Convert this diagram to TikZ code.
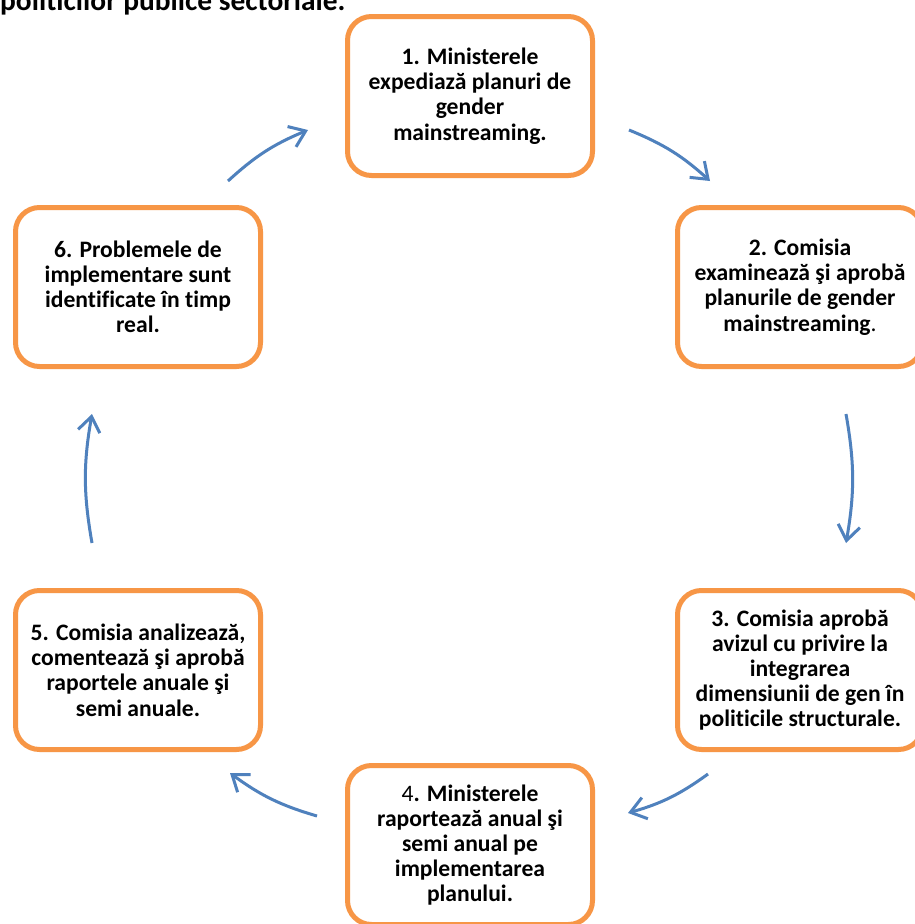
\documentclass[tikz,border=0pt]{standalone}
\usepackage{fontspec}
\setmainfont{Carlito}[Ligatures=NoCommon]
\usetikzlibrary{arrows.meta}
\definecolor{boxorange}{HTML}{F79646}
\definecolor{arrowblue}{HTML}{4F81BD}
\colorlet{box edge}{boxorange}
\colorlet{cycle line}{arrowblue}
\newcommand{\boxfont}{\fontsize{23.6}{25.2}\selectfont\bfseries}
\tikzset{
  pbox/.style={draw=box edge, line width=5pt, rounded corners=24pt, fill=white,
    minimum width=245pt, minimum height=159pt, inner sep=0pt, align=center,
    font=\boxfont},
  cyc/.style={draw=cycle line, line width=3pt,
    -{Straight Barb[length=15pt, width=22pt]}},
}
\begin{document}
\begin{tikzpicture}[x=1pt, y=-1pt]
	\useasboundingbox (0,0) rectangle (915,924);
	\fill[white] (0,0) rectangle (915,924);

	% title, cut at the top of the page
	\node[anchor=base west, inner sep=0pt, font=\fontsize{29.4}{32}\selectfont\bfseries]
		(title) at (0,10) {politicilor publice sectoriale.};

	\node[pbox] (b1) at (470,96)  {1. Ministerele\\expediază planuri de\\gender\\mainstreaming.};
	\node[pbox] (b2) at (800,287) {2. Comisia\\examinează şi aprobă\\planurile de gender\\mainstreaming{\mdseries .}};
	\node[pbox] (b3) at (800,670) {3. Comisia aprobă\\avizul cu privire la\\integrarea\\dimensiunii de gen în\\politicile structurale.};
	\node[pbox] (b4) at (470,845) {{\mdseries 4}. Ministerele\\raportează anual şi\\semi anual pe\\implementarea\\planului.};
	\node[pbox] (b5) at (138,670) {5. Comisia analizează,\\comentează şi aprobă\\raportele anuale şi\\semi anuale.};
	\node[pbox] (b6) at (138,287) {6. Problemele de\\implementare sunt\\identificate în timp\\real.};

	% cycle arrows
	\draw[cyc] ([shift={(-35,-24)}]b6.north east) to[bend left=10] ([shift={(-37,34)}]b1.west);
	\draw[cyc] ([shift={(34,34)}]b1.east) to[bend left=10] ([shift={(35,-24)}]b2.north west);
	\draw[cyc] ([shift={(46,45)}]b2.south) to[bend left=10] ([shift={(46,-45)}]b3.north);
	\draw[cyc] ([shift={(33,22)}]b3.south west) to[bend left=10] ([shift={(33,-32)}]b4.east);
	\draw[cyc] ([shift={(-28,-29)}]b4.west) to[bend left=10] ([shift={(-33,21)}]b5.south east);
	\draw[cyc] ([shift={(-46,-45)}]b5.north) to[bend left=10] ([shift={(-46,45)}]b6.south);
\end{tikzpicture}
\end{document}
